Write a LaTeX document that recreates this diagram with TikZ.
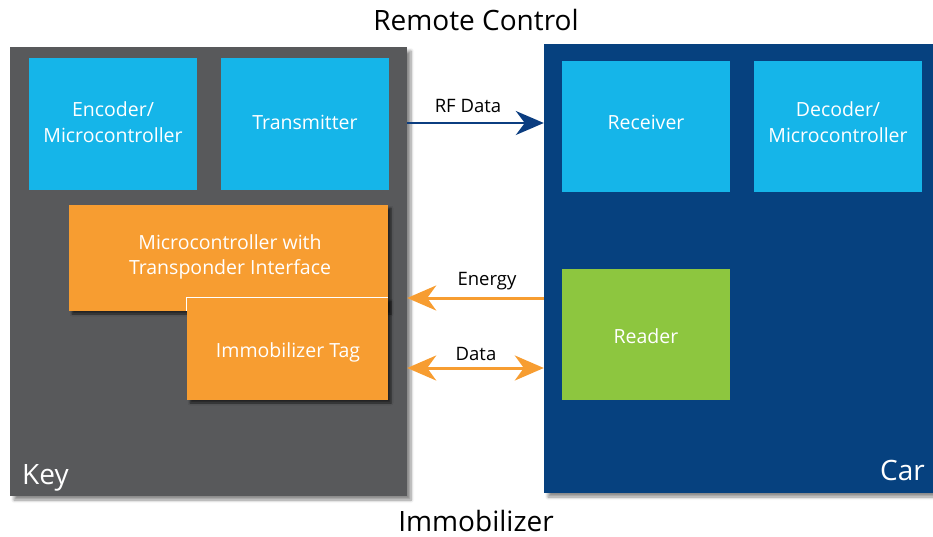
\documentclass[tikz,border=0pt]{standalone}
\usepackage{fontspec}
\setmainfont{Open Sans}
\usetikzlibrary{arrows.meta,shadows.blur}
\definecolor{keygray}{HTML}{58595B}
\definecolor{carblue}{HTML}{06417F}
\definecolor{cyanbox}{HTML}{15B5E9}
\definecolor{orangebox}{HTML}{F79D31}
\definecolor{greenbox}{HTML}{8DC63F}
\definecolor{arrowblue}{HTML}{0B3D80}
\tikzset{
  panel/.style={rectangle, inner sep=0pt, draw=none, blur shadow={shadow xshift=4pt, shadow yshift=-4pt, shadow blur steps=6, shadow blur radius=3pt, shadow opacity=45}},
  blockbox/.style={rectangle, inner sep=0pt, draw=none, minimum width=168pt, minimum height=132pt, text=white, align=center, font=\fontsize{19.5}{25.5}\selectfont},
  shadowed/.style={blur shadow={shadow xshift=3pt, shadow yshift=-3pt, shadow blur steps=5, shadow blur radius=2pt, shadow opacity=60}},
  lbl/.style={font=\fontsize{18.5}{22}\selectfont, text=black, inner sep=0pt},
  title/.style={font=\fontsize{28}{32}\selectfont, text=black, inner sep=0pt},
  corner/.style={font=\fontsize{28}{32}\selectfont, text=white, inner sep=0pt},
  rfarrow/.style={draw=arrowblue, line width=2.2pt, -{Stealth[length=28pt,width=24pt,inset=9pt]}},
  orone/.style={draw=orangebox, line width=3pt, -{Stealth[length=29pt,width=25pt,inset=9pt]}},
  ortwo/.style={draw=orangebox, line width=3pt, {Stealth[length=29pt,width=25pt,inset=9pt]}-{Stealth[length=29pt,width=25pt,inset=9pt]}},
}
\begin{document}
\begin{tikzpicture}[x=1pt,y=-1pt]
\useasboundingbox (0,0) rectangle (933,537);
% panels
\node[panel, fill=keygray, minimum width=397pt, minimum height=449pt] (key) at (208.5,271.5) {};
\node[panel, fill=carblue, minimum width=389pt, minimum height=449pt] (car) at (738.5,268.5) {};
% key blocks
\node[blockbox, fill=cyanbox] (enc) at (113,124) {};
\node[blockbox, fill=cyanbox] (tx) at (305,124) {};
\node[blockbox, fill=orangebox, shadowed, minimum width=319pt, minimum height=106pt] (mc) at (228.5,258) {};
\node[blockbox, fill=orangebox, shadowed, minimum width=201pt, minimum height=102pt] (tag) at (287.5,349) {};
\draw[white, line width=1pt] (tag.west |- mc.south) -- (tag.north west) -- (tag.north east);
% car blocks
\node[blockbox, fill=cyanbox, minimum height=131pt] (rx) at (646,126.5) {};
\node[blockbox, fill=cyanbox, minimum height=131pt] (dec) at (838,126.5) {};
\node[blockbox, fill=greenbox, minimum height=131pt] (rd) at (646,334.5) {};
% block texts
\node[blockbox, minimum width=0pt, minimum height=0pt] (enct) at (113,122) {Encoder/\\Microcontroller};
\node[blockbox, minimum width=0pt, minimum height=0pt] (txt) at (305,122) {Transmitter};
\node[blockbox, minimum width=0pt, minimum height=0pt] (mct) at (230,257) {Microcontroller with\\Transponder Interface};
\node[blockbox, minimum width=0pt, minimum height=0pt] (tagt) at (288,352) {Immobilizer Tag};
\node[blockbox, minimum width=0pt, minimum height=0pt] (rxt) at (646,122) {Receiver};
\node[blockbox, minimum width=0pt, minimum height=0pt] (dect) at (838,122) {Decoder/\\Microcontroller};
\node[blockbox, minimum width=0pt, minimum height=0pt] (rdt) at (646,336) {Reader};
% corner labels
\node[corner, anchor=base west] (keylbl) at (22,484) {Key};
\node[corner, anchor=base east] (carlbl) at (925,480) {Car};
% titles
\node[title] (rc) at (476,20) {Remote Control};
\node[title, anchor=base] (imm) at (476,531) {Immobilizer};
% arrows
\coordinate (rfs) at (key.east |- 0,123);
\coordinate (rfe) at (car.west |- 0,123);
\draw[rfarrow] (rfs) -- (rfe);
\node[lbl] (rflbl) at (468,106) {RF Data};
\coordinate (ens) at (car.west |- 0,298);
\coordinate (ene) at (key.east |- 0,298);
\draw[orone] (ens) -- (ene);
\node[lbl] (enlbl) at (487,281) {Energy};
\coordinate (das) at (key.east |- 0,368);
\coordinate (dae) at (car.west |- 0,368);
\draw[ortwo] (das) -- (dae);
\node[lbl] (dalbl) at (476,354) {Data};
\end{tikzpicture}
\end{document}
